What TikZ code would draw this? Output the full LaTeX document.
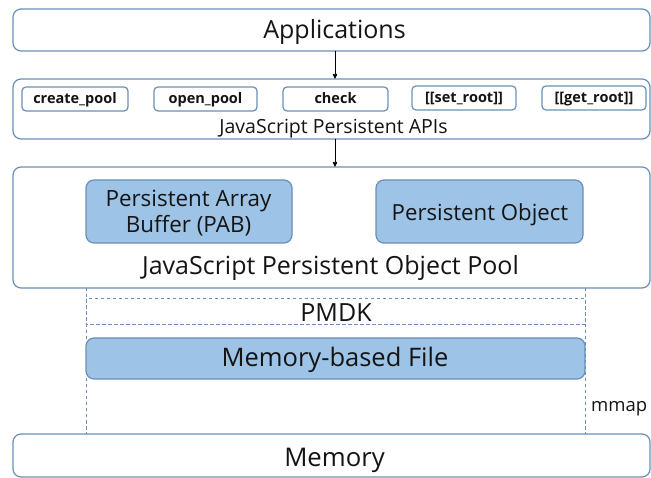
\documentclass[tikz,border=0pt]{standalone}
\usepackage{fontspec}
\setmainfont{Open Sans}
\usetikzlibrary{arrows.meta}
\definecolor{edge}{HTML}{6A8FB8}
\definecolor{boxfill}{HTML}{9DC3E6}
\definecolor{ink}{HTML}{141414}
\begin{document}
\begin{tikzpicture}[x=1pt,y=-1pt,
  every node/.style={text=ink,inner sep=0pt},
  lbl/.style={anchor=base,font=\fontsize{#1}{#1}\selectfont},
  layer/.style={draw=edge,line width=1.2pt,rounded corners=8pt,fill=white},
  apibox/.style={draw=edge,line width=1.2pt,rounded corners=4pt,fill=white},
  apitxt/.style={anchor=base,font=\fontsize{14.5}{16}\selectfont\bfseries},
  comp/.style={draw=edge,line width=1.2pt,rounded corners=8pt,fill=boxfill},
  dashline/.style={draw=edge,line width=1pt,dash pattern=on 3.5pt off 2.5pt},
  flow/.style={-{Triangle[length=5pt,width=4.5pt]},line width=0.7pt,black}]
\useasboundingbox (0,0) rectangle (651,478);
\fill[white] (0,0) rectangle (651,478);

% Applications layer
\draw[layer] (13,9) rectangle (650,51);
\node[lbl=25] (app) at (334.5,39) {Applications};
\coordinate (appb) at (335,51);

% API layer
\draw[layer] (13,79) rectangle (650,139);
\coordinate (apit) at (335,79);
\coordinate (apib) at (335,139);
\node[lbl=19.5] (apilbl) at (333.5,134) {JavaScript Persistent APIs};
\draw[apibox] (22,87) rectangle (128,111);
\node[apitxt] (create) at (75,104) {create\_pool};
\draw[apibox] (154,87) rectangle (257,111);
\node[apitxt] (open) at (205.5,104) {open\_pool};
\draw[apibox] (283,87) rectangle (388,111);
\node[apitxt] (check) at (335.5,104) {check};
\draw[apibox] (412,86) rectangle (516,110);
\node[apitxt] (setr) at (464,103) {[[set\_root]]};
\draw[apibox] (542,86) rectangle (646,110);
\node[apitxt] (getr) at (594,103) {[[get\_root]]};

% Object pool layer
\draw[layer] (13,167) rectangle (650,288);
\coordinate (poolt) at (335,167);
\draw[comp] (86,180) rectangle (292,243);
\node[lbl=22.4] (pab1) at (188.5,207) {Persistent Array};
\node[lbl=22.4] (pab2) at (188.5,233) {Buffer (PAB)};
\draw[comp] (376,180) rectangle (583,243);
\node[lbl=22.2] (pobj) at (480,220.5) {Persistent Object};
\node[lbl=25] (pool) at (330.5,275) {JavaScript Persistent Object Pool};

% Dashed region under the pool
\draw[dashline] (86,288) -- (86,434);
\draw[dashline] (585,288) -- (585,434);
\draw[dashline] (86,299) rectangle (585,325);
\node[lbl=25] (pmdk) at (336,321.5) {PMDK};
\draw[comp] (86,338) rectangle (585,379);
\node[lbl=25.5] (mbf) at (335,367) {Memory-based File};
\node[lbl=18.5,anchor=base west] (mmap) at (591,412) {mmap};

% Memory layer
\draw[layer] (13,434) rectangle (650,477);
\node[lbl=25.7] (mem) at (334.5,466.5) {Memory};

% Flow arrows
\draw[flow] (appb) -- (apit);
\draw[flow] (apib) -- (poolt);
\end{tikzpicture}
\end{document}
